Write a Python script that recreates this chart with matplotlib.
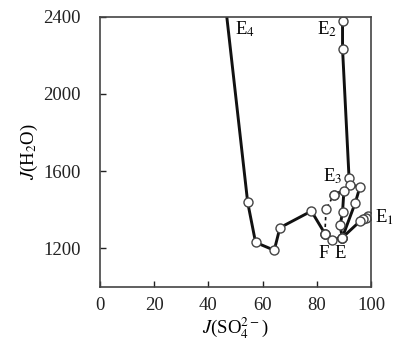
import matplotlib
matplotlib.use("Agg")
import matplotlib.pyplot as plt

plt.rcParams['font.family'] = ['Liberation Serif', 'DejaVu Serif']
plt.rcParams['mathtext.fontset'] = 'stix'

# Path E4 -> F
e4_x = [45.5, 54.5, 57.4, 64.3, 66.4, 78.0, 83.0]
e4_y = [2560, 1438, 1231, 1190, 1307, 1393, 1276]
# Path E2 -> E3 -> E
e2_x = [89.5, 89.5, 91.9, 92.3, 95.9, 94.2, 89.4]
e2_y = [2380, 2233, 1566, 1530, 1517, 1436, 1255]
# Path F -> E3 (dashed part)
f_x = [83.0, 83.4, 86.3, 90.0, 89.5, 88.6, 89.4]
f_y = [1276, 1402, 1478, 1499, 1386, 1319, 1255]
# Path E1 -> E
e1_x = [99.0, 98.0, 97.0, 95.9, 89.4]
e1_y = [1365, 1355, 1350, 1340, 1255]
# F -> E bottom
fe_x = [83.0, 85.7, 89.4]
fe_y = [1276, 1245, 1255]

labels = ["E$_4$", "E$_2$", "E$_3$", "E$_1$", "F", "E"]
label_x = [49.8, 80.0, 82.3, 101.5, 80.5, 86.7]
label_y = [2336, 2336, 1575, 1360, 1174, 1174]

fig = plt.figure(figsize=(3.94, 3.40), dpi=100)
ax = fig.add_axes([0.2538, 0.156, 0.6878, 0.795])

lc = '#111111'
mk = dict(marker='o', markersize=6.5, markerfacecolor='white',
          markeredgecolor='#444444', markeredgewidth=1.0)

ax.plot(e4_x, e4_y, color=lc, lw=2.1, **mk)
ax.plot(e2_x, e2_y, color=lc, lw=2.1, **mk)
ax.plot(f_x[:3], f_y[:3], color=lc, lw=1.2, ls=(0, (2, 2)), **mk)
ax.plot(f_x[2:], f_y[2:], color=lc, lw=2.1, **mk)
ax.plot(e1_x, e1_y, color=lc, lw=2.1, **mk)
ax.plot(fe_x, fe_y, color=lc, lw=2.1, **mk)

for t, x, y in zip(labels, label_x, label_y):
    ax.text(x, y, t, fontsize=13.5, ha='left', va='center', clip_on=False)

ax.set_xlim(0, 100)
ax.set_ylim(1000, 2400)
ax.set_xticks([0, 20, 40, 60, 80, 100])
ax.set_yticks([1200, 1600, 2000, 2400])
ax.tick_params(direction='in', length=4, width=1, labelsize=13.5,
               top=False, right=False, colors='#222222')
ax.tick_params(axis='y', pad=14)
ax.tick_params(axis='x', pad=7)
for s in ax.spines.values():
    s.set_linewidth(1.2)
    s.set_color('#444444')

ax.set_xlabel("$J$(SO$_4^{2-}$)", fontsize=13.5, labelpad=1)
ax.set_ylabel("$J$(H$_2$O)", fontsize=13.5, labelpad=2)

fig.savefig("out.png", dpi=100)
